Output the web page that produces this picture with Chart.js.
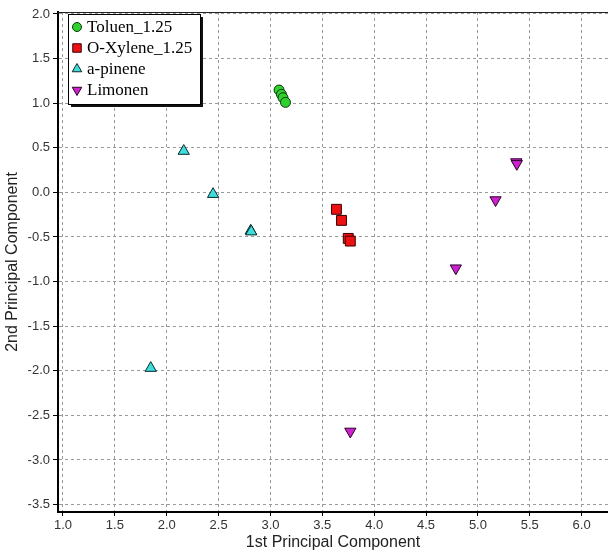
<!DOCTYPE html>
<html>
<head>
<meta charset="utf-8">
<script src="https://cdn.jsdelivr.net/npm/chart.js@4.4.0/dist/chart.umd.min.js"></script>
<style>
  html, body { margin: 0; padding: 0; background: #fff; overflow: hidden; }
  #wrap { width: 608px; height: 553px; }
</style>
</head>
<body>
<div id="wrap"><canvas id="pca"></canvas></div>
<script>
// values
const seriesNames = ['Toluen_1.25', 'O-Xylene_1.25', 'a-pinene', 'Limonen'];

const toluenX = [3.083, 3.106, 3.121, 3.145];
const toluenY = [1.147, 1.099, 1.061, 1.009];

const xyleneX = [3.636, 3.685, 3.75, 3.77];
const xyleneY = [-0.19, -0.314, -0.516, -0.546];

const pineneX = [2.164, 2.447, 2.81, 2.815, 1.846];
const pineneY = [0.463, -0.02, -0.43, -0.44, -1.97];

const limonenX = [5.37, 5.375, 5.17, 4.787, 3.77];
const limonenY = [0.34, 0.32, -0.086, -0.85, -2.68];

const xTicks = [1.0, 1.5, 2.0, 2.5, 3.0, 3.5, 4.0, 4.5, 5.0, 5.5, 6.0];
const yTicks = [2.0, 1.5, 1.0, 0.5, 0.0, -0.5, -1.0, -1.5, -2.0, -2.5, -3.0, -3.5];

function pts(xs, ys) {
    return xs.map((x, i) => ({ x: x, y: ys[i] }));
}

const datasets = [
    { label: seriesNames[0], data: pts(toluenX, toluenY), pointStyle: 'circle', pointRadius: 5,
      backgroundColor: '#2fd12f', borderColor: '#0a3a0a' },
    { label: seriesNames[1], data: pts(xyleneX, xyleneY), pointStyle: 'rect', pointRadius: 7,
      backgroundColor: '#ee1111', borderColor: '#3a0000' },
    { label: seriesNames[2], data: pts(pineneX, pineneY), pointStyle: 'triangle', pointRadius: 6.5,
      backgroundColor: '#3fdcdc', borderColor: '#0a2a2a' },
    { label: seriesNames[3], data: pts(limonenX, limonenY), pointStyle: 'triangle', rotation: 180, pointRadius: 6.5,
      backgroundColor: '#cc22cc', borderColor: '#2a002a' }
];
datasets.forEach(d => { d.borderWidth = 1; d.pointRotation = d.rotation || 0; });

// boxed legend with a drop shadow inside the plot, like the original
const boxLegend = {
    id: 'boxLegend',
    afterDraw(chart) {
        const ctx = chart.ctx;
        const bx = 68, by = 14, bw = 132, bh = 90;
        ctx.save();
        ctx.fillStyle = '#111';
        ctx.fillRect(bx + 3, by + 3, bw, bh);
        ctx.fillStyle = '#fff';
        ctx.fillRect(bx, by, bw, bh);
        ctx.strokeStyle = '#000';
        ctx.lineWidth = 1;
        ctx.strokeRect(bx + 0.5, by + 0.5, bw, bh);
        ctx.font = '17px "Liberation Serif", "Times New Roman", serif';
        ctx.textBaseline = 'middle';
        chart.data.datasets.forEach((ds, i) => {
            const cy = 27 + i * 21;
            ctx.fillStyle = ds.backgroundColor;
            ctx.strokeStyle = ds.borderColor;
            ctx.lineWidth = 1;
            Chart.helpers.drawPoint(ctx, {
                pointStyle: ds.pointStyle,
                radius: ds.pointStyle === 'rect' ? 6 : (ds.pointStyle === 'circle' ? 4.5 : 5.5),
                rotation: ds.pointRotation,
                borderWidth: 1
            }, 77, cy);
            ctx.fillStyle = '#000';
            ctx.fillText(ds.label, 87, cy + 1);
        });
        ctx.restore();
    },
    beforeDatasetsDraw(chart) {
        const a = chart.chartArea;
        const ctx = chart.ctx;
        ctx.save();
        ctx.strokeStyle = '#222';
        ctx.lineWidth = 1;
        ctx.beginPath();
        ctx.moveTo(a.left, a.top + 0.5);
        ctx.lineTo(a.right, a.top + 0.5);
        ctx.stroke();
        ctx.restore();
    }
};

const tickFont = { family: '"Liberation Sans", Arial, sans-serif', size: 13 };
const titleFont = { family: '"Liberation Sans", Arial, sans-serif', size: 16 };

new Chart(document.getElementById('pca'), {
    type: 'scatter',
    data: { datasets: datasets },
    plugins: [boxLegend],
    options: {
        responsive: true,
        maintainAspectRatio: false,
        animation: false,
        layout: { autoPadding: false, padding: { left: 0, right: 0, top: 12, bottom: 0 } },
        plugins: {
            legend: { display: false },
            tooltip: { enabled: false }
        },
        scales: {
            x: {
                type: 'linear',
                min: 0.952,
                max: 6.254,
                afterBuildTicks: s => { s.ticks = xTicks.map(v => ({ value: v })); },
                afterFit: s => { s.height = 41; s.paddingLeft = 0; s.paddingRight = 0; },
                ticks: {
                    color: '#333',
                    font: tickFont,
                    padding: 2,
                    callback: v => v.toFixed(1)
                },
                grid: {
                    color: '#9a9a9a',
                    tickBorderDash: [],
                    tickColor: '#000',
                    tickLength: 4,
                    lineWidth: 1
                },
                border: { display: true, color: '#000', width: 2, dash: [3, 3] },
                title: {
                    display: true,
                    text: '1st Principal Component',
                    color: '#222',
                    font: titleFont,
                    padding: { top: 0, bottom: 1 }
                }
            },
            y: {
                type: 'linear',
                min: -3.583,
                max: 2.022,
                afterBuildTicks: s => { s.ticks = yTicks.map(v => ({ value: v })); },
                afterFit: s => { s.width = 58; s.paddingTop = 0; s.paddingBottom = 0; },
                ticks: {
                    color: '#333',
                    font: tickFont,
                    padding: 3,
                    callback: v => v.toFixed(1)
                },
                grid: {
                    color: '#9a9a9a',
                    tickBorderDash: [],
                    tickColor: '#000',
                    tickLength: 5,
                    lineWidth: 1
                },
                border: { display: true, color: '#000', width: 2, dash: [3, 3] },
                title: {
                    display: true,
                    text: '2nd Principal Component',
                    color: '#222',
                    font: titleFont,
                    padding: { top: 3, bottom: 0 }
                }
            }
        }
    }
});
</script>
</body>
</html>
